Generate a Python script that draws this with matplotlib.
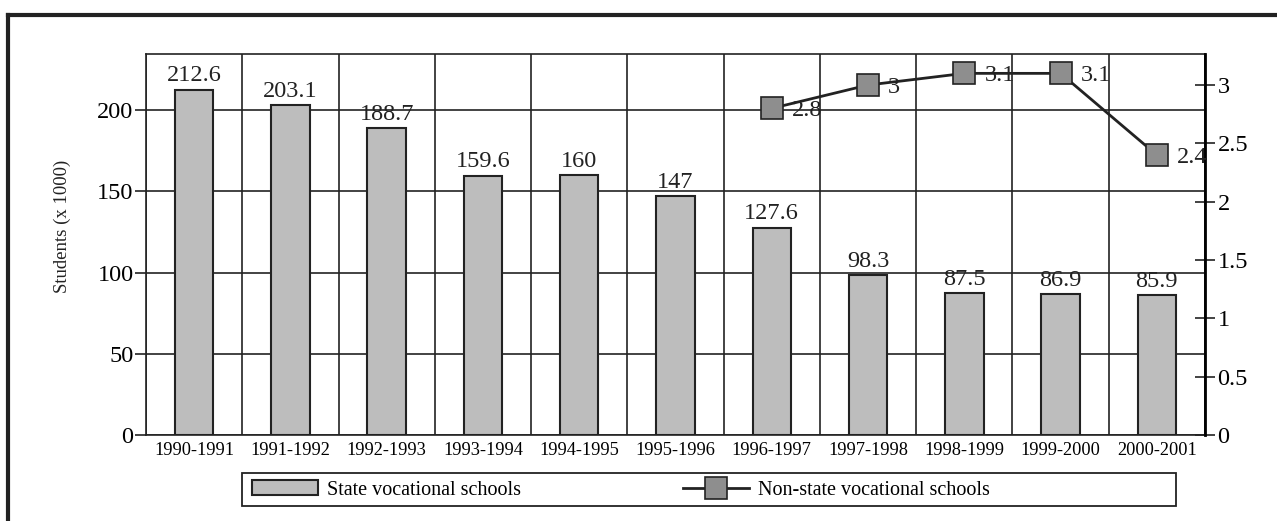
import matplotlib.pyplot as plt
from matplotlib.patches import Rectangle
import numpy as np

years = ['1990-1991', '1991-1992', '1992-1993', '1993-1994', '1994-1995',
         '1995-1996', '1996-1997', '1997-1998', '1998-1999', '1999-2000', '2000-2001']
state = [212.6, 203.1, 188.7, 159.6, 160, 147, 127.6, 98.3, 87.5, 86.9, 85.9]
nonstate_years = ['1996-1997', '1997-1998', '1998-1999', '1999-2000', '2000-2001']
nonstate = [2.8, 3, 3.1, 3.1, 2.4]

plt.rcParams['font.family'] = ['Liberation Serif', 'DejaVu Serif']
W, H = 1277, 521
dark = '#222222'

fig = plt.figure(figsize=(W / 100, H / 100), dpi=100)
ax = fig.add_axes([146 / W, 1 - 435 / H, (1205 - 146) / W, (435 - 54) / H])

x = np.arange(len(years))
ax.bar(x, state, width=0.4, color='#bdbdbd', edgecolor=dark, linewidth=1.5,
       label='State vocational schools', zorder=3)
for xi, v in zip(x, state):
    ax.text(xi, v + 2, f'{v:g}', ha='center', va='bottom', fontsize=17.5, color=dark, zorder=4)

ax.set_xlim(-0.5, len(years) - 0.5)
ax.set_ylim(0, 234.5)
ax.set_yticks([0, 50, 100, 150, 200])
ax.set_xticks(x)
ax.set_xticklabels(years, fontsize=13.2)
ax.tick_params(axis='x', length=0, pad=5)
ax.tick_params(axis='y', labelsize=17.5, length=8, width=1.2, color=dark, pad=1)
ax.set_xticks(np.arange(-0.5, len(years)), minor=True)
ax.tick_params(axis='x', which='minor', length=0)
ax.grid(True, axis='x', which='minor', color=dark, linewidth=1.2, zorder=0)
ax.grid(True, axis='y', which='major', color=dark, linewidth=1.2, zorder=0)
for s in ax.spines.values():
    s.set_linewidth(1.2)
    s.set_color(dark)
fig.text(62 / W, 1 - 226 / H, 'Students (x 1000)', rotation=90, ha='center', va='center',
         fontsize=13.5, color=dark)

ax2 = ax.twinx()
nx = [years.index(y) for y in nonstate_years]
ax2.plot(nx, nonstate, color=dark, linewidth=2, marker='s', markersize=15.5,
         markerfacecolor='#8e8e8e', markeredgecolor=dark, markeredgewidth=1.2,
         label='Non-state vocational schools', zorder=5)
for xi, v in zip(nx, nonstate):
    ax2.text(xi + 0.21, v - 0.02, f'{v:g}', ha='left', va='center', fontsize=17.5, color=dark)
ax2.set_ylim(0, 3.266)
ax2.set_yticks([0, 0.5, 1, 1.5, 2, 2.5, 3])
ax2.set_yticklabels(['0', '0.5', '1', '1.5', '2', '2.5', '3'])
ax2.tick_params(axis='y', labelsize=17.5, direction='inout', length=14, width=1.2,
                color=dark, pad=2)
ax2.spines['right'].set_linewidth(2)
for s in ['top', 'left', 'bottom']:
    ax2.spines[s].set_visible(False)

# legend: one frame, two entries placed along it
fig.add_artist(Rectangle((242 / W, 1 - 506 / H), (1176 - 242) / W, 33 / H, fill=False,
                         edgecolor=dark, linewidth=1.3, transform=fig.transFigure))
h1, l1 = ax.get_legend_handles_labels()
h2, l2 = ax2.get_legend_handles_labels()
for h, l, x0 in [(h1, l1, 252), (h2, l2, 683)]:
    fig.legend(h, l, loc='center left', bbox_to_anchor=(x0 / W, 1 - 490 / H),
               fontsize=14.5, frameon=False, handlelength=3.3, handletextpad=0.4,
               borderpad=0, borderaxespad=0)

# open page frame along the top and left
fig.add_artist(plt.Line2D([8 / W, 1.0], [1 - 15 / H, 1 - 15 / H], color=dark, linewidth=3,
                          transform=fig.transFigure))
fig.add_artist(plt.Line2D([8 / W, 8 / W], [0.0, 1 - 15 / H], color=dark, linewidth=3,
                          transform=fig.transFigure))

fig.savefig('out.png', dpi=100)
